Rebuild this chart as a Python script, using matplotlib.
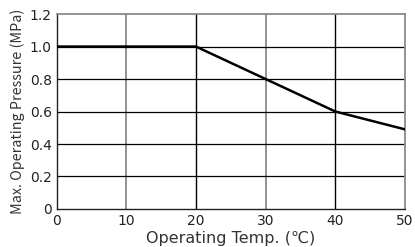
import matplotlib
matplotlib.use("Agg")
import matplotlib.pyplot as plt

temps = [0, 20, 30, 40, 50]
pressure = [1.0, 1.0, 0.8, 0.6, 0.49]
xticks = [0, 10, 20, 30, 40, 50]
yticks = [0, 0.2, 0.4, 0.6, 0.8, 1.0, 1.2]
ytick_labels = ["0", "0.2", "0.4", "0.6", "0.8", "1.0", "1.2"]

plt.rcParams['font.family'] = ['DejaVu Sans', 'Noto Sans CJK JP']

fig = plt.figure(figsize=(4.15, 2.47), dpi=100)
ax = fig.add_axes([0.1362, 0.154, 0.8398, 0.789])
ax.set_xlim(0, 50)
ax.set_ylim(0, 1.2)

for x in xticks[1:-1]:
    c = "#8a8a8a" if x in (10, 30) else "#000000"
    lw = 1.3 if x in (10, 30) else 1.0
    ax.axvline(x, color=c, lw=lw, zorder=1)
for y in yticks[1:-1]:
    ax.axhline(y, color="#000000", lw=0.9, zorder=1)

ax.plot(temps, pressure, color="black", lw=1.8, zorder=3)

ax.set_xticks(xticks)
ax.set_yticks(yticks)
ax.set_yticklabels(ytick_labels)
ax.tick_params(length=0, labelsize=10, pad=3.5, labelcolor="#222222")
ax.set_xlabel("Operating Temp. (℃)", fontsize=11.5, labelpad=2.5, color="#333333")
ax.set_ylabel("Max. Operating Pressure (MPa)", fontsize=10.3,
              family=['Noto Sans CJK JP', 'DejaVu Sans'], labelpad=3, color="#333333")

for side in ("left", "bottom"):
    ax.spines[side].set_color("#222222")
    ax.spines[side].set_linewidth(1.0)
for side in ("top", "right"):
    ax.spines[side].set_color("#8a8a8a")
    ax.spines[side].set_linewidth(1.3)

fig.savefig("out.png", dpi=100)
